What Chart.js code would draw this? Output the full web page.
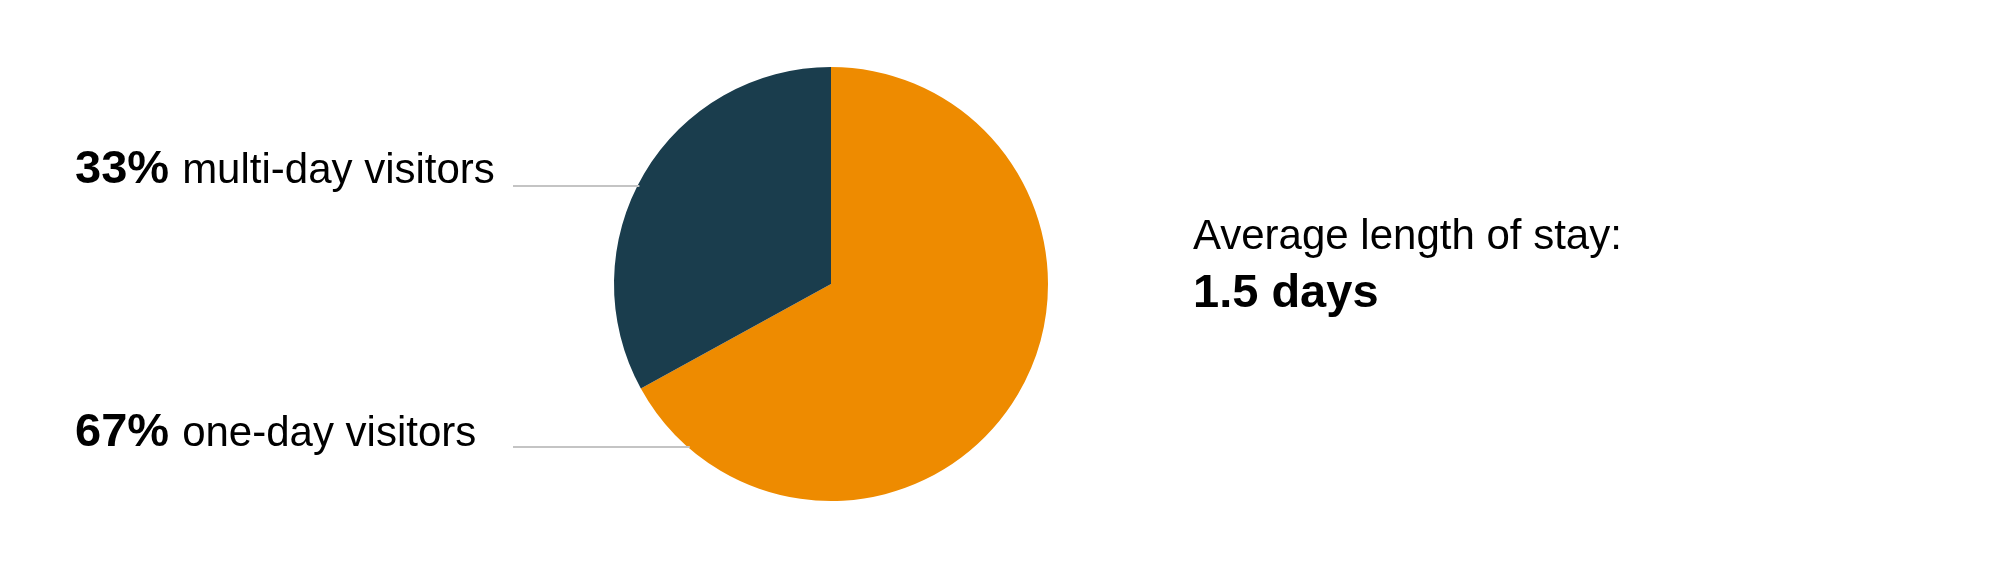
<!DOCTYPE html>
<html>
<head>
<meta charset="utf-8">
<script src="https://cdn.jsdelivr.net/npm/chart.js@4"></script>
<style>
  html, body { margin: 0; padding: 0; background: #fff; }
  #wrap { width: 2000px; height: 572px; }
</style>
</head>
<body>
<div id="wrap"><canvas id="chart" width="2000" height="572"></canvas></div>
<script>
// data
const categories = ['one-day visitors', 'multi-day visitors']
const shares = [67, 33]
const stayTitle = ['Average length of stay:']
const stayDays = [1.5]

const ctx = document.querySelector('#chart').getContext('2d')
const FONT = '"Liberation Sans", Arial, Helvetica, sans-serif'

// labels on the left with a grey leader line that runs to the pie edge
const sideLabels = {
  id: 'sideLabels',
  afterDatasetsDraw(chart) {
    const c = chart.ctx
    const arc = chart.getDatasetMeta(0).data[0]
    const cx = arc.x, cy = arc.y, r = arc.outerRadius
    const baselines = [446, 183]
    const lineYs = [447, 186]

    c.save()
    categories.forEach((name, i) => {
      const y = baselines[i]
      const pct = shares[i] + '% '
      c.textBaseline = 'alphabetic'
      c.textAlign = 'left'
      c.fillStyle = '#000'
      c.font = 'bold 47px ' + FONT
      c.fillText(pct, 75, y)
      const w = c.measureText(pct).width
      c.font = '42px ' + FONT
      c.fillText(name, 75 + w, y)

      const ly = lineYs[i]
      const dy = ly - cy
      const xEdge = cx - Math.sqrt(Math.max(r * r - dy * dy, 0))
      c.strokeStyle = '#c4c4c4'
      c.lineWidth = 2
      c.beginPath()
      c.moveTo(513, ly)
      c.lineTo(xEdge + 2, ly)
      c.stroke()
    })

    // average stay text on the right
    c.font = '42px ' + FONT
    c.fillText(stayTitle[0], 1193, 249)
    c.font = 'bold 47px ' + FONT
    c.fillText(stayDays[0] + ' days', 1193, 307)
    c.restore()
  }
}

new Chart(ctx, {
  type: 'pie',
  data: {
    labels: categories,
    datasets: [{
      data: shares,
      backgroundColor: ['#EE8B00', '#1A3D4D'],
      borderWidth: 0
    }]
  },
  options: {
    responsive: false,
    devicePixelRatio: 1,
    animation: false,
    layout: { padding: { left: 614, right: 952, top: 67, bottom: 71 } },
    plugins: {
      legend: { display: false },
      tooltip: { enabled: false }
    }
  },
  plugins: [sideLabels]
})
</script>
</body>
</html>
